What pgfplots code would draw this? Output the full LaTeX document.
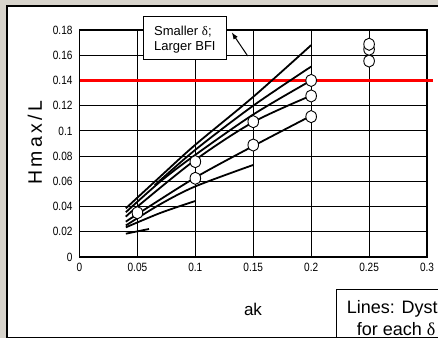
\documentclass[border=0pt]{standalone}
\usepackage{fontspec}
\setmainfont{Liberation Sans}
\newfontfamily\narrowfont{Liberation Sans}[FakeStretch=0.84]
\newfontfamily\greekfont{Liberation Serif}
\newfontfamily\spacedfont{Liberation Sans}[LetterSpace=17]
\usepackage{pgfplots}
\pgfplotsset{compat=1.18}
\usetikzlibrary{arrows.meta}
\definecolor{paper}{RGB}{216,212,204}
\begin{document}
\begin{tikzpicture}[x=1pt,y=1pt]
% textured page behind the chart panel
\fill[paper] (0,0) rectangle (438,338);
\begin{scope}
\clip (0,0) rectangle (438,338);
\draw[overlay, fill=white, line width=1.2pt] (7,0.8) rectangle (460,332);
\end{scope}
\begin{axis}[
  at={(79.5pt,81pt)}, anchor=south west,
  scale only axis, width=347.5pt, height=227pt,
  xmin=0, xmax=0.3, ymin=0, ymax=0.18,
  xtick={0,0.05,0.1,0.15,0.2,0.25,0.3},
  xticklabels={0,0.05,0.1,0.15,0.2,0.25,0.3},
  ytick={0,0.02,0.04,0.06,0.08,0.1,0.12,0.14,0.16,0.18},
  yticklabels={0,0.02,0.04,0.06,0.08,0.1,0.12,0.14,0.16,0.18},
  /pgf/number format/assume math mode=true,
  tick label style={font=\narrowfont\fontsize{12}{13}\selectfont},
  xticklabel style={yshift=-3pt},
  yticklabel style={xshift=-3.5pt},
  major tick length=0pt,
  grid=major,
  major grid style={black, line width=0.8pt},
  axis line style={line width=1.3pt},
  clip=false,
]
% threshold level
\addplot[red, line width=3.4pt] coordinates {(0,0.14) (0.3055,0.14)};
% solution curves, one per delta
\addplot[black, line width=1.8pt, smooth] coordinates {(0.04,0.0386) (0.07,0.064) (0.1,0.089) (0.15,0.127) (0.2,0.168)};
\addplot[black, line width=1.8pt, smooth] coordinates {(0.065,0.057) (0.1,0.085) (0.15,0.120) (0.2,0.151)};
\addplot[black, line width=1.8pt, smooth] coordinates {(0.04,0.0355) (0.07,0.060) (0.1,0.081) (0.15,0.113) (0.2,0.140)};
\addplot[black, line width=1.8pt, smooth] coordinates {(0.04,0.032) (0.05,0.040) (0.1,0.077) (0.15,0.107) (0.2,0.128)};
\addplot[black, line width=1.8pt, smooth] coordinates {(0.04,0.028) (0.05,0.034) (0.1,0.063) (0.15,0.088) (0.2,0.112)};
\addplot[black, line width=1.8pt, smooth] coordinates {(0.04,0.025) (0.07,0.042) (0.1,0.056) (0.15,0.073)};
\addplot[black, line width=1.8pt, smooth] coordinates {(0.04,0.0235) (0.07,0.035) (0.1,0.0444)};
\addplot[black, line width=1.8pt] coordinates {(0.04,0.0185) (0.06,0.0222)};
% measured maxima
\addplot[only marks, mark=*, mark size=5.3pt,
  mark options={fill=white, draw=black, line width=0.9pt, yscale=1.15}]
  coordinates {(0.05,0.0351) (0.1,0.0756) (0.1,0.0624) (0.15,0.1073) (0.15,0.0888)
               (0.2,0.140) (0.2,0.1277) (0.2,0.1113)
               (0.25,0.1554) (0.25,0.1647) (0.25,0.1687)};
\draw[line width=1.8pt] (axis cs:0,0) -- (axis cs:0.3,0);
\draw[line width=1.8pt] (axis cs:0,0) -- (axis cs:0,0.18);
\end{axis}
% axis titles
\node[rotate=90, font=\spacedfont\fontsize{19.5}{21}\selectfont] at (35,195) {Hmax/L};
\node[anchor=base, font=\fontsize{17}{19}\selectfont, inner sep=0] at (253,23) {ak};
% annotation with arrow
\draw[fill=white, line width=0.8pt] (143.3,278.7) rectangle (226,322);
\node[anchor=base west, inner sep=0, font=\fontsize{13}{15}\selectfont] at (154,302.7) {Smaller {\greekfont δ};};
\node[anchor=base west, inner sep=0, font=\fontsize{13}{15}\selectfont] at (154,287.3) {Larger BFI};
\draw[line width=1pt, -{Latex[length=7pt,width=5pt]}] (247.7,282) -- (231.7,305.7);
% legend note, running past the right edge
\begin{scope}
\clip (0,0) rectangle (438,338);
\draw[overlay, fill=white, line width=0.8pt] (336.7,0.8) rectangle (470,48.7);
\node[overlay, anchor=base west, inner sep=0, font=\fontsize{18}{20}\selectfont] at (346.7,24.7) {Lines: Dysthe};
\node[overlay, anchor=base west, inner sep=0, font=\fontsize{18}{20}\selectfont] at (356.7,3) {for each {\greekfont δ}};
\end{scope}
\end{tikzpicture}
\end{document}
